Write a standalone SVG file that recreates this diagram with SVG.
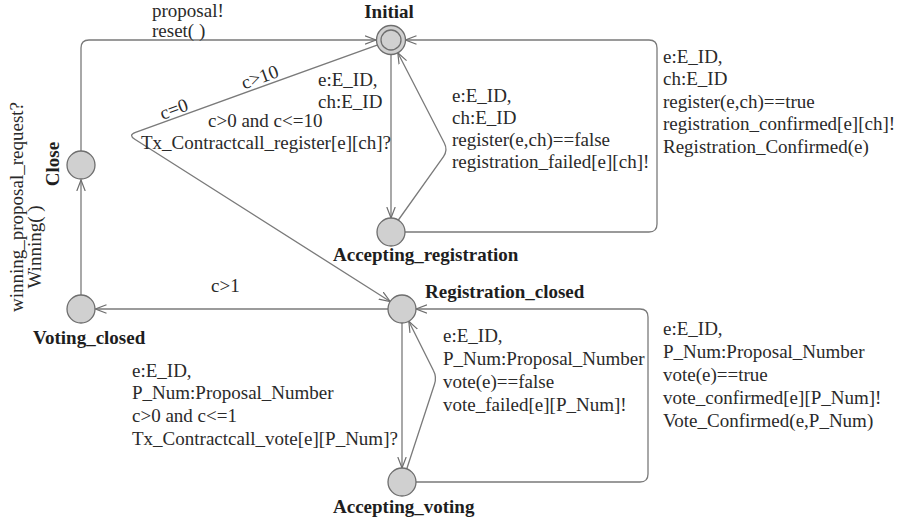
<svg xmlns="http://www.w3.org/2000/svg" width="903" height="525" viewBox="0 0 903 525">
  <style>
    .loc { fill: #d0d0d0; stroke: #6e6e6e; stroke-width: 1.3; }
    .edge { fill: none; stroke: #7a7a7a; stroke-width: 1.3; }
    .lbl { font-family: "Liberation Serif", "Times New Roman", serif; font-size: 19px; fill: #2a2a2a; }
    .name { font-family: "Liberation Serif", "Times New Roman", serif; font-size: 19px; font-weight: bold; fill: #1e1e1e; }
  </style>
  <defs>
    <marker id="arr" viewBox="0 0 12 10" refX="11" refY="5" markerWidth="12" markerHeight="10" markerUnits="userSpaceOnUse" orient="auto">
      <path d="M0,0.8 L11,5 L0,9.2" fill="none" stroke="#6e6e6e" stroke-width="1.2"/>
    </marker>
  </defs>
  <rect width="903" height="525" fill="#ffffff"/>

  <!-- transitions -->
  <g id="connectors">
    <!-- Close -> Initial -->
    <path class="edge" d="M81,151 V48 Q81,40 89,40 H376" marker-end="url(#arr)"/>
    <!-- Initial -> Registration_closed (c>10 / c=0) -->
    <path class="edge" d="M377.8,44.8 L135.5,132.3 Q128,135 134.8,139.3 L390.2,301.5" marker-end="url(#arr)"/>
    <!-- Initial -> Accepting_registration -->
    <path class="edge" d="M391,54.5 V218" marker-end="url(#arr)"/>
    <!-- Accepting_registration -> Initial (register false) -->
    <path class="edge" d="M398,220.5 L443.5,156.6 Q448,150 444.3,143 L397.8,52.8" marker-end="url(#arr)"/>
    <!-- Accepting_registration -> Initial (register true) -->
    <path class="edge" d="M405,232 H649 Q657,232 657,224 V48 Q657,40 649,40 H405.5" marker-end="url(#arr)"/>
    <!-- Registration_closed -> Voting_closed -->
    <path class="edge" d="M388,309 H95.5" marker-end="url(#arr)"/>
    <!-- Voting_closed -> Close -->
    <path class="edge" d="M81,295 V180" marker-end="url(#arr)"/>
    <!-- Registration_closed -> Accepting_voting -->
    <path class="edge" d="M402,323 V468" marker-end="url(#arr)"/>
    <!-- Accepting_voting -> Registration_closed (vote false) -->
    <path class="edge" d="M406.8,468.8 L434.4,384.5 Q437,377 433.3,370.2 L408.8,321.2" marker-end="url(#arr)"/>
    <!-- Accepting_voting -> Registration_closed (vote true) -->
    <path class="edge" d="M416,482 H640 Q648,482 648,474 V317 Q648,309 640,309 H416" marker-end="url(#arr)"/>
  </g>

  <!-- transition labels -->
  <g id="edge-labels">
    <text class="lbl" x="152" y="17">proposal!</text>
    <text class="lbl" x="152" y="37">reset( )</text>

    <text class="lbl" text-anchor="middle" transform="translate(262,83) rotate(-19.9)">c&gt;10</text>
    <text class="lbl" text-anchor="middle" transform="translate(176,115) rotate(-19.9)">c=0</text>

    <text class="lbl" x="318" y="86">e:E_ID,</text>
    <text class="lbl" x="318" y="108">ch:E_ID</text>
    <text class="lbl" x="208" y="127">c&gt;0 and c&lt;=10</text>
    <text class="lbl" x="141" y="149">Tx_Contractcall_register[e][ch]?</text>

    <text class="lbl" x="452" y="102">e:E_ID,</text>
    <text class="lbl" x="452" y="124">ch:E_ID</text>
    <text class="lbl" x="452" y="146">register(e,ch)==false</text>
    <text class="lbl" x="452" y="168">registration_failed[e][ch]!</text>

    <text class="lbl" x="663" y="63">e:E_ID,</text>
    <text class="lbl" x="663" y="85">ch:E_ID</text>
    <text class="lbl" x="663" y="108">register(e,ch)==true</text>
    <text class="lbl" x="663" y="130">registration_confirmed[e][ch]!</text>
    <text class="lbl" x="663" y="153">Registration_Confirmed(e)</text>

    <text class="lbl" x="211" y="292">c&gt;1</text>

    <text class="lbl" text-anchor="middle" transform="translate(23,207) rotate(-90)">winning_proposal_request?</text>
    <text class="lbl" text-anchor="middle" transform="translate(41,247) rotate(-90)">Winning( )</text>

    <text class="lbl" x="132" y="377">e:E_ID,</text>
    <text class="lbl" x="132" y="399">P_Num:Proposal_Number</text>
    <text class="lbl" x="132" y="422">c&gt;0 and c&lt;=1</text>
    <text class="lbl" x="132" y="445">Tx_Contractcall_vote[e][P_Num]?</text>

    <text class="lbl" x="443" y="342">e:E_ID,</text>
    <text class="lbl" x="443" y="365">P_Num:Proposal_Number</text>
    <text class="lbl" x="443" y="388">vote(e)==false</text>
    <text class="lbl" x="443" y="411">vote_failed[e][P_Num]!</text>

    <text class="lbl" x="663" y="335">e:E_ID,</text>
    <text class="lbl" x="663" y="358">P_Num:Proposal_Number</text>
    <text class="lbl" x="663" y="381">vote(e)==true</text>
    <text class="lbl" x="663" y="404">vote_confirmed[e][P_Num]!</text>
    <text class="lbl" x="663" y="427">Vote_Confirmed(e,P_Num)</text>
  </g>

  <!-- locations -->
  <g id="Initial">
    <circle class="loc" cx="391" cy="40" r="14.5"/>
    <circle cx="391" cy="40" r="10" fill="none" stroke="#6e6e6e" stroke-width="1.3"/>
    <text class="name" x="389" y="18" text-anchor="middle">Initial</text>
  </g>
  <g id="Accepting_registration">
    <circle class="loc" cx="391" cy="232" r="14"/>
    <text class="name" x="333" y="261">Accepting_registration</text>
  </g>
  <g id="Registration_closed">
    <circle class="loc" cx="402" cy="309" r="14"/>
    <text class="name" x="425" y="298">Registration_closed</text>
  </g>
  <g id="Voting_closed">
    <circle class="loc" cx="81" cy="309" r="14"/>
    <text class="name" x="33" y="344">Voting_closed</text>
  </g>
  <g id="Close">
    <circle class="loc" cx="81" cy="165" r="14"/>
    <text class="name" text-anchor="middle" transform="translate(59,164) rotate(-90)">Close</text>
  </g>
  <g id="Accepting_voting">
    <circle class="loc" cx="402" cy="482" r="14"/>
    <text class="name" x="333" y="513">Accepting_voting</text>
  </g>
</svg>
